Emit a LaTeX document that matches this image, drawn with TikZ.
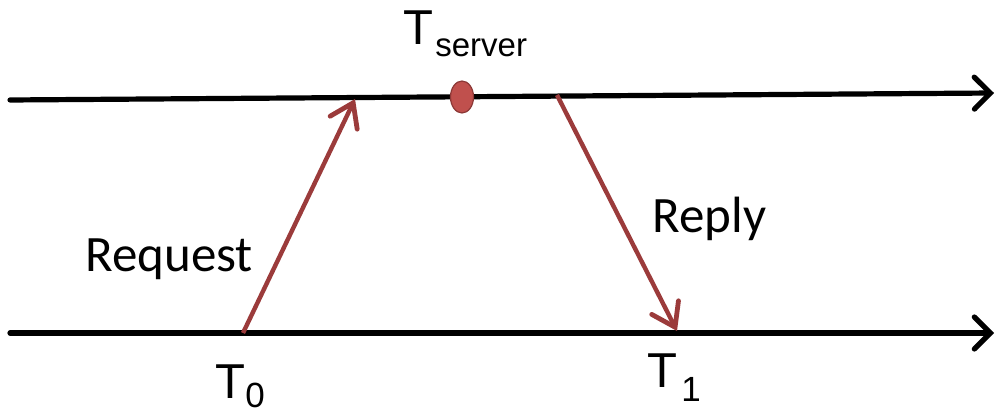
\documentclass[tikz,border=0pt]{standalone}
\usepackage{fontspec}
\setmainfont{Carlito}
\newfontfamily\arialf{Liberation Sans}
\usetikzlibrary{arrows.meta,shapes.geometric}
\definecolor{msgred}{HTML}{9B3B3B}
\definecolor{dotfill}{HTML}{C0504D}
\definecolor{dotdraw}{HTML}{8C3836}
\tikzset{
  timeline/.style={line width=2.6pt, black, line cap=round,
    -{Straight Barb[length=8pt,width=16pt,line cap=round,line width=2.6pt]}},
  msg/.style={line width=2.2pt, msgred,
    -{Straight Barb[length=11pt,width=15pt,line cap=round,line width=2.4pt]}},
  lbl/.style={inner sep=0pt, anchor=base west, font=\fontsize{25.5}{30}\selectfont},
  tlbl/.style={inner sep=0pt, anchor=base west, font=\arialf\fontsize{24.5}{30}\selectfont},
  evdot/.style={ellipse, minimum width=11.5pt, minimum height=16pt, inner sep=0pt,
    fill=dotfill, draw=dotdraw, line width=0.6pt}
}
\begin{document}
\begin{tikzpicture}[x=0.5pt,y=-0.5pt]
\useasboundingbox (0,0) rectangle (996,416);
\coordinate (tl) at (10,100);
\coordinate (tr) at (994,93);
\coordinate (bl) at (10,333);
\coordinate (br) at (994,333);
\coordinate (t0) at (243,333);
\coordinate (rq) at (355,99);
\coordinate (rs) at (557,95);
\coordinate (t1) at (677,331);
\draw[timeline] (tl) -- (tr);
\draw[timeline] (bl) -- (br);
\draw[msg] (t0) -- (rq);
\draw[msg] (rs) -- (t1);
\node[evdot] (ts) at (462,97) {};
\node[lbl] (req) at (85,272) {Request};
\node[lbl] (rep) at (652,233) {Reply};
\node[tlbl] (tsl) at (403,45) {T\kern1pt\raisebox{-6pt}{\fontsize{16.5}{20}\selectfont server}};
\node[tlbl] (t0l) at (215,399) {T\raisebox{-4.5pt}{\fontsize{17.5}{20}\selectfont 0}};
\node[tlbl] (t1l) at (647,388) {T\kern2pt\raisebox{-7pt}{\fontsize{17.5}{20}\selectfont 1}};
\end{tikzpicture}
\end{document}
